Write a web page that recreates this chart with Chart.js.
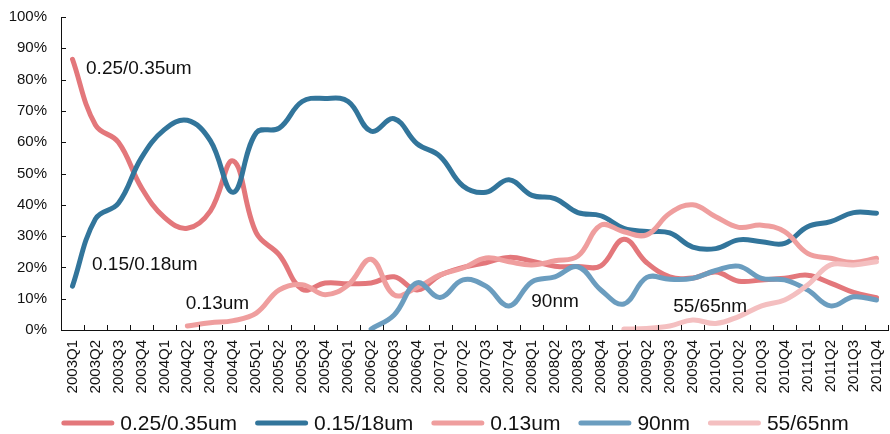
<!DOCTYPE html>
<html><head><meta charset="utf-8">
<script src="https://cdn.jsdelivr.net/npm/chart.js@4/dist/chart.umd.min.js"></script>
<style>html,body{margin:0;padding:0;background:#fff}#wrap{width:890px;height:434px;position:relative}</style>
</head><body><div id="wrap"><canvas id="c"></canvas></div>
<script>
const categories = ['2003Q1','2003Q2','2003Q3','2003Q4','2004Q1','2004Q2','2004Q3','2004Q4','2005Q1','2005Q2','2005Q3','2005Q4','2006Q1','2006Q2','2006Q3','2006Q4','2007Q1','2007Q2','2007Q3','2007Q4','2008Q1','2008Q2','2008Q3','2008Q4','2009Q1','2009Q2','2009Q3','2009Q4','2010Q1','2010Q2','2010Q3','2010Q4','2011Q1','2011Q2','2011Q3','2011Q4'];
const seriesNames = ['0.25/0.35um','0.15/18um','0.13um','90nm','55/65nm'];
const s025 = [86.5,65.5,60,45.5,36,32.5,38,54,31,24,13,15,14.8,15,17,12.8,17.5,20,21.5,23.2,22,20.4,20.3,20.5,29,21.5,17,16.6,18.5,15.6,16,16.5,17.5,15,12,10.3];
const s015 = [14,35.5,40.5,55,64,67,60.5,44,63,64.5,73,74,73,63.5,67.5,59.5,55.5,46,44,48,43,42,37.5,36.5,32.5,31.5,31,26.5,26,28.8,28.2,27.7,33,34.6,37.5,37.3];
const s013 = [null,null,null,null,null,1.3,2.3,3,5.4,12.8,14.5,11.3,14.4,22.6,11.2,13.6,17.6,19.8,23,21.8,20.8,22.1,23.6,33.5,31.4,30.4,37.3,40,36.2,32.8,33.5,31.4,24.5,22.9,21.6,22.9];
const s90 = [null,null,null,null,null,null,null,null,null,null,null,null,null,0.3,4.8,15.1,10.4,16,14,7.7,15.4,17,20.2,12.8,8.3,16.8,16.2,16.5,19,20.4,16.5,16,12.8,7.7,10.6,9.6];
const s55 = [null,null,null,null,null,null,null,null,null,null,null,null,null,null,null,null,null,null,null,null,null,null,null,null,0.3,0.5,1.3,3.2,2.1,4.3,7.7,9.6,14.4,20.8,20.8,21.8];
const yTickValues = [0,10,20,30,40,50,60,70,80,90,100];
const noteTexts = ['0.25/0.35um','0.15/0.18um','0.13um','90nm','55/65nm'];
const noteAt = [0.59,0.85,4.93,19.97,26.15];
const noteValue = [81.8,19.2,6.7,7.4,5.8];

const colors = ['#E3777B','#32759B','#EF9E9E','#6B9DBF','#F4BFC0'];
const FONT = '"Liberation Sans", Arial, sans-serif';
Chart.defaults.font.family = FONT;
Chart.defaults.color = '#111';

const tickPlugin = {
  id: 'inwardTicks',
  afterDraw(chart) {
    const {ctx, chartArea, scales} = chart;
    const xs = scales.x, ys = scales.y;
    ctx.save();
    ctx.strokeStyle = '#111'; ctx.lineWidth = 1;
    ctx.beginPath();
    for (let i = 1; i <= categories.length; i++) {
      let px = i < categories.length ? (xs.getPixelForValue(i - 1) + xs.getPixelForValue(i)) / 2 : chartArea.right;
      px = Math.round(px) + 0.5;
      ctx.moveTo(px, chartArea.bottom); ctx.lineTo(px, chartArea.bottom - 5);
    }
    yTickValues.forEach(v => {
      const py = Math.round(ys.getPixelForValue(v)) + 0.5;
      ctx.moveTo(chartArea.left, py); ctx.lineTo(chartArea.left + 5, py);
    });
    ctx.stroke();
    ctx.restore();
  }
};

const notePlugin = {
  id: 'notes',
  afterDatasetsDraw(chart) {
    const {ctx, scales} = chart;
    ctx.save();
    ctx.font = '19px ' + FONT;
    ctx.fillStyle = '#111';
    ctx.textAlign = 'left'; ctx.textBaseline = 'alphabetic';
    noteTexts.forEach((t, i) => {
      ctx.fillText(t, scales.x.getPixelForValue(noteAt[i]), scales.y.getPixelForValue(noteValue[i]));
    });
    ctx.restore();
  }
};

const legendPlugin = {
  id: 'customLegend',
  afterDraw(chart) {
    const ctx = chart.ctx;
    ctx.save();
    ctx.font = '21px ' + FONT;
    const lineW = 53, gapT = 6, gapI = 18;
    const items = chart.data.datasets.map(d => ({label: d.label, color: d.borderColor, w: ctx.measureText(d.label).width}));
    const total = items.reduce((s, it) => s + lineW + gapT + it.w, 0) + gapI * (items.length - 1);
    let x = 455 - total / 2;
    const y = 423;
    items.forEach(it => {
      ctx.strokeStyle = it.color; ctx.lineWidth = 5; ctx.lineCap = 'round';
      ctx.beginPath(); ctx.moveTo(x + 2.5, y); ctx.lineTo(x + lineW - 2.5, y); ctx.stroke();
      ctx.fillStyle = '#111'; ctx.textBaseline = 'alphabetic'; ctx.textAlign = 'left';
      ctx.fillText(it.label, x + lineW + gapT, 430);
      x += lineW + gapT + it.w + gapI;
    });
    ctx.restore();
  }
};

const seriesData = [s025, s015, s013, s90, s55];
const datasets = seriesData.map((d, i) => ({
  label: seriesNames[i],
  data: d,
  borderColor: colors[i],
  backgroundColor: colors[i],
  borderWidth: 5,
  pointRadius: 0,
  tension: 0.4,
  fill: false,
  borderCapStyle: 'round',
  borderJoinStyle: 'round',
  order: seriesData.length - i
}));

new Chart(document.getElementById('c'), {
  type: 'line',
  data: {labels: categories, datasets},
  options: {
    responsive: true,
    maintainAspectRatio: false,
    animation: false,
    events: [],
    layout: {padding: {top: 17, right: 2, left: 0, bottom: 0}},
    plugins: {legend: {display: false}, tooltip: {enabled: false}},
    scales: {
      x: {
        type: 'category',
        offset: true,
        grid: {display: true, drawOnChartArea: false, drawTicks: false},
        border: {display: true, color: '#111', width: 1},
        ticks: {autoSkip: false, minRotation: 90, maxRotation: 90, padding: 10, font: {size: 15}, color: '#111'},
        afterFit(scale) { scale.height = 104; scale.paddingLeft = 0; scale.paddingRight = 0; }
      },
      y: {
        min: 0, max: 100,
        grid: {display: true, drawOnChartArea: false, drawTicks: false},
        border: {display: true, color: '#111', width: 1},
        ticks: {stepSize: 10, padding: 14, font: {size: 15}, color: '#111', callback: v => v + '%'},
        afterFit(scale) { scale.width = 61; scale.paddingTop = 0; scale.paddingBottom = 0; }
      }
    }
  },
  plugins: [tickPlugin, notePlugin, legendPlugin]
});
</script></body></html>
